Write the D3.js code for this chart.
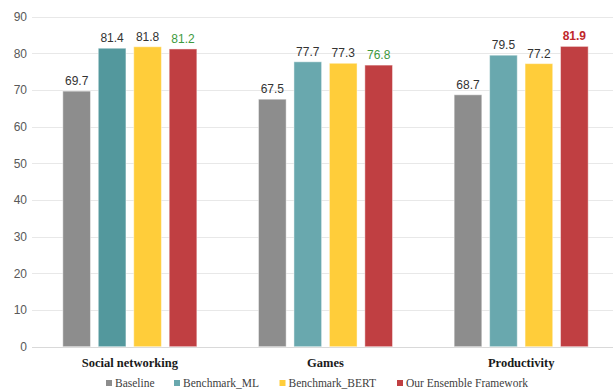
<!DOCTYPE html>
<html>
<head>
<meta charset="utf-8">
<script src="https://cdn.jsdelivr.net/npm/d3@7/dist/d3.min.js"></script>
<style>
  html, body { margin: 0; padding: 0; background: #fff; }
  svg { display: block; }
</style>
</head>
<body>
<svg id="chart" width="613" height="392"></svg>
<script>
// Accuracy per app category and model
const categories = ["Social networking", "Games", "Productivity"];
const seriesNames = ["Baseline", "Benchmark_ML", "Benchmark_BERT", "Our Ensemble Framework"];
const baseline = [69.7, 67.5, 68.7];
const benchmarkML = [81.4, 77.7, 79.5];
const benchmarkBERT = [81.8, 77.3, 77.2];
const ensemble = [81.2, 76.8, 81.9];
const yTicks = [0, 10, 20, 30, 40, 50, 60, 70, 80, 90];

const seriesValues = [baseline, benchmarkML, benchmarkBERT, ensemble];
const colors = ["#8d8d8d", "#62a3a8", "#ffcd3a", "#c03f42"];
const tealByGroup = ["#53989d", "#69a8ae", "#69a8ae"];
// label styling for the ensemble values
const ensembleLabelStyle = [
  { fill: "#3d9a3d", weight: "normal" },
  { fill: "#3d9a3d", weight: "normal" },
  { fill: "#c0282b", weight: "bold" }
];

const svg = d3.select("#chart");
const W = 613, H = 392;
const plot = { left: 32, right: 619, top: 16.7, bottom: 346.7 };

const y = d3.scaleLinear().domain([0, 90]).range([plot.bottom, plot.top]);
const x0 = d3.scaleBand().domain(categories).range([plot.left, plot.right]).paddingInner(0.315).paddingOuter(0.1575);
const x1 = d3.scaleBand().domain(seriesNames).range([0, x0.bandwidth()]).paddingInner(0.22).paddingOuter(0);

// gridlines
svg.append("g")
  .selectAll("line")
  .data(yTicks)
  .join("line")
  .attr("x1", plot.left).attr("x2", W)
  .attr("y1", d => Math.round(y(d)) + 0.5).attr("y2", d => Math.round(y(d)) + 0.5)
  .attr("stroke", d => d === 0 ? "#d9d9d9" : "#e8e8e8")
  .attr("stroke-width", 1);

// y axis labels
const yAxis = d3.axisLeft(y).tickValues(yTicks).tickSize(0).tickPadding(0);
const yg = svg.append("g").attr("transform", `translate(27,0)`).call(yAxis);
yg.select(".domain").remove();
yg.selectAll("text")
  .attr("font-family", "Liberation Sans, Arial, sans-serif")
  .attr("font-size", 12)
  .attr("fill", "#595959");

// bars
const rows = [];
categories.forEach((c, i) => {
  seriesNames.forEach((s, j) => {
    rows.push({ cat: c, ci: i, series: s, si: j, value: seriesValues[j][i] });
  });
});

const groups = svg.append("g");
groups.selectAll("rect")
  .data(rows)
  .join("rect")
  .attr("x", d => x0(d.cat) + x1(d.series))
  .attr("width", x1.bandwidth())
  .attr("y", d => y(d.value))
  .attr("height", d => y(0) - y(d.value))
  .attr("fill", d => d.si === 1 ? tealByGroup[d.ci] : colors[d.si])
  .attr("stroke", "rgba(255,255,255,0.45)")
  .attr("stroke-width", 1);

// value labels
groups.selectAll("text")
  .data(rows)
  .join("text")
  .attr("x", d => x0(d.cat) + x1(d.series) + x1.bandwidth() / 2)
  .attr("y", d => y(d.value) - 6)
  .attr("text-anchor", "middle")
  .attr("font-family", "Liberation Sans, Arial, sans-serif")
  .attr("font-size", 12)
  .attr("fill", d => d.si === 3 ? ensembleLabelStyle[d.ci].fill : "#333")
  .attr("font-weight", d => d.si === 3 ? ensembleLabelStyle[d.ci].weight : "normal")
  .text(d => d.value.toFixed(1));

// category axis labels
const xAxis = d3.axisBottom(x0).tickSize(0).tickPadding(0);
const xg = svg.append("g").attr("transform", `translate(0,${plot.bottom + 20})`).call(xAxis);
xg.select(".domain").remove();
xg.selectAll("text")
  .attr("font-family", "'Liberation Serif', 'Times New Roman', serif")
  .attr("font-size", 12.5)
  .attr("font-weight", "bold")
  .attr("fill", "#1a1a1a")
  .attr("dy", "0");

// legend
const legendX = [106, 174, 279.5, 397];
const legend = svg.append("g").attr("transform", "translate(0,383)");
const items = legend.selectAll("g")
  .data(seriesNames)
  .join("g")
  .attr("transform", (d, i) => `translate(${legendX[i]},0)`);
items.append("rect")
  .attr("x", 0).attr("y", -3)
  .attr("width", 6).attr("height", 6)
  .attr("fill", (d, i) => i === 1 ? tealByGroup[1] : colors[i]);
items.append("text")
  .attr("x", 9).attr("y", 4)
  .attr("font-family", "'Liberation Serif', 'Times New Roman', serif")
  .attr("font-size", 11.5)
  .attr("fill", "#404040")
  .text(d => d);
</script>
</body>
</html>
